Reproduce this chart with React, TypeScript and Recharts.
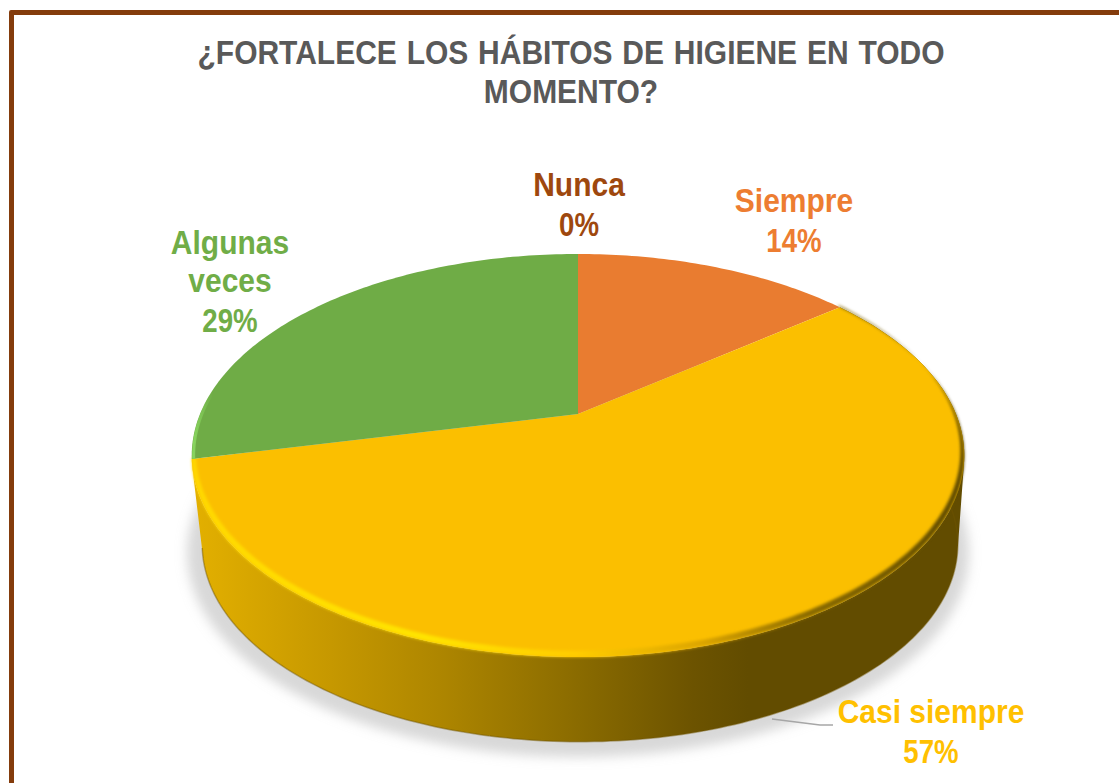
import React from 'react';
import { PieChart, Pie, Cell } from 'recharts';

const categories = ['Siempre', 'Casi siempre', 'Algunas veces', 'Nunca'];
const responses = [1, 4, 2, 0];
const colors = ['#e97c30', '#fbbf00', '#6fac46', '#9e480e'];
const labelColors = ['#ed7d31', '#ffc000', '#70ad47', '#9e480e'];
const titleLines = ['¿FORTALECE LOS HÁBITOS DE HIGIENE EN TODO', 'MOMENTO?'];

const pieData = categories.map((name, i) => ({ name, value: responses[i] }));
const shadowData = [{ name: 'sombra', value: 1 }];

// where the data labels sit: centre x and one baseline per line
const labelSpots: Record<string, { x: number; lines: string[]; y: number[] }> = {
  Siempre: { x: 794, lines: ['Siempre'], y: [212, 252] },
  'Casi siempre': { x: 931, lines: ['Casi siempre'], y: [723, 763] },
  'Algunas veces': { x: 230, lines: ['Algunas', 'veces'], y: [254, 292, 332] },
  Nunca: { x: 579, lines: ['Nunca'], y: [196, 236] },
};

// perspective of the tilted disc
const TILT = 0.5106;
const DEPTH = 0.206;
const WALL_DROP = 90;
const WALL_SHIFT = 2;
const WALL_SCALE = 0.978;

const RAD = Math.PI / 180;
const FONT = "'Liberation Sans', Arial, sans-serif";

const project = (cx: number, cy: number, r: number, deg: number) => {
  const u = Math.cos(deg * RAD);
  const v = Math.sin(deg * RAD);
  const d = 1 + DEPTH * v;
  return [cx + (r * u) / d, cy - (r * TILT * v) / d];
};

const arcPoints = (cx: number, cy: number, r: number, from: number, to: number) => {
  const steps = Math.max(2, Math.ceil(Math.abs(to - from)));
  const pts: number[][] = [];
  for (let i = 0; i <= steps; i++) {
    pts.push(project(cx, cy, r, from + ((to - from) * i) / steps));
  }
  return pts;
};

const toPath = (pts: number[][], close = true) =>
  pts.map((p, i) => `${i ? 'L' : 'M'}${p[0].toFixed(2)} ${p[1].toFixed(2)}`).join(' ') + (close ? ' Z' : '');

// same winding on every quad, so the union has no seams and keeps the tangent silhouette
const sweepPath = (top: number[][], bottom: number[][]) => {
  const parts: string[] = [];
  for (let i = 0; i < top.length - 1; i++) {
    const quad = [top[i], top[i + 1], bottom[i + 1], bottom[i]];
    let area = 0;
    quad.forEach((p, j) => {
      const q = quad[(j + 1) % 4];
      area += p[0] * q[1] - q[0] * p[1];
    });
    parts.push(toPath(area < 0 ? [...quad].reverse() : quad));
  }
  return parts.join(' ');
};

const FaceShape = (props: any) => {
  const { cx, cy, outerRadius, startAngle, endAngle, fill, name } = props;
  if (startAngle === endAngle) return null;
  const rim = arcPoints(cx, cy, outerRadius, startAngle, endAngle);
  const face = toPath([[cx, cy], ...rim]);
  const mid = (startAngle + endAngle) / 2;
  const inner = arcPoints(cx, cy - 4, outerRadius * 0.99, endAngle, startAngle);
  return (
    <g>
      <path d={face} fill={fill} />
      {Math.sin(mid * RAD) < 0 && (
        <path d={toPath([...rim, ...inner])} fill="url(#bevel)" filter="url(#soft)" />
      )}
      {name === 'Algunas veces' && (
        <path
          d={toPath(arcPoints(cx, cy, outerRadius * 0.995, startAngle, endAngle), false)}
          fill="none"
          stroke="url(#greenEdge)"
          strokeWidth={3}
        />
      )}
    </g>
  );
};

const WallShape = (props: any) => {
  const { cx, cy, outerRadius, startAngle, endAngle } = props;
  const mid = (startAngle + endAngle) / 2;
  if (startAngle === endAngle || Math.sin(mid * RAD) >= 0) return null;
  const rim = arcPoints(cx, cy, outerRadius, startAngle, endAngle);
  const base = arcPoints(cx + WALL_SHIFT, cy + WALL_DROP, outerRadius * WALL_SCALE, startAngle, endAngle);
  return (
    <g>
      <path d={sweepPath(rim, base)} fill="url(#wall)" />
      <path d={toPath(base, false)} fill="none" stroke="#6e5500" strokeOpacity={0.45} strokeWidth={1.5} />
    </g>
  );
};

const ShadowShape = (props: any) => {
  const { cx, cy, outerRadius, startAngle, endAngle } = props;
  const ring = arcPoints(cx, cy + WALL_DROP + 7, outerRadius * 1.012, startAngle, endAngle);
  return <path d={toPath(ring)} fill="#b4b4b4" fillOpacity={0.52} filter="url(#blur)" />;
};

// the text in the picture is a little condensed and tall
const Condensed = ({ x, y, fill, squeeze = 0.923, wordSpacing = 0, children }: any) => (
  <text
    transform={`translate(${x} ${y}) scale(${squeeze} 1)`}
    textAnchor="middle"
    fontFamily={FONT}
    fontWeight={700}
    fontSize={32.5}
    wordSpacing={wordSpacing}
    fill={fill}
  >
    {children}
  </text>
);

const DataLabel = (props: any) => {
  const { name, percent, index } = props;
  const spot = labelSpots[name];
  if (!spot) return null;
  const lines = [...spot.lines, `${Math.round(percent * 100)}%`];
  return (
    <g>
      {name === 'Casi siempre' && (
        <polyline points="772,719 820,725 833,725" fill="none" stroke="#a6a6a6" strokeWidth={1.5} />
      )}
      {lines.map((line, i) => (
        <Condensed
          key={line}
          x={spot.x}
          y={spot.y[i]}
          fill={labelColors[index]}
          squeeze={line.endsWith('%') ? 0.85 : 0.923}
        >
          {line}
        </Condensed>
      ))}
    </g>
  );
};

export default function App() {
  return (
    <div style={{ position: 'absolute', left: 0, top: 0, width: 1119, height: 783, overflow: 'hidden', background: '#fff' }}>
      <div
        style={{
          position: 'absolute',
          left: 9,
          top: 10,
          width: 1300,
          height: 1000,
          border: '5px solid #843c0c',
          borderRadius: 2,
        }}
      />
      <div style={{ position: 'absolute', left: 0, top: 0 }}>
        <PieChart width={1119} height={783} margin={{ top: 0, right: 0, bottom: 0, left: 0 }}>
          <defs>
            <linearGradient id="wall" x1="0" y1="0" x2="1" y2="0">
              <stop offset="0" stopColor="#e3b000" />
              <stop offset="0.18" stopColor="#c69800" />
              <stop offset="0.32" stopColor="#ae8600" />
              <stop offset="0.5" stopColor="#8a6b00" />
              <stop offset="0.65" stopColor="#6c5300" />
              <stop offset="0.72" stopColor="#624c00" />
              <stop offset="1" stopColor="#624c00" />
            </linearGradient>
            <linearGradient id="bevel" x1="0" y1="0" x2="1" y2="0">
              <stop offset="0" stopColor="#ffd800" />
              <stop offset="0.3" stopColor="#ffe400" />
              <stop offset="0.5" stopColor="#ffcc00" />
              <stop offset="0.66" stopColor="#dca500" />
              <stop offset="0.8" stopColor="#8a6b00" />
              <stop offset="1" stopColor="#5f4a00" />
            </linearGradient>
            <linearGradient id="greenEdge" x1="0" y1="0" x2="1" y2="0">
              <stop offset="0" stopColor="#88d45e" />
              <stop offset="0.05" stopColor="#88d45e" stopOpacity={0} />
            </linearGradient>
            <filter id="soft" x="-2%" y="-5%" width="104%" height="110%">
              <feGaussianBlur stdDeviation="1.6" />
            </filter>
            <filter id="blur" x="-5%" y="-5%" width="110%" height="110%">
              <feGaussianBlur stdDeviation="6" />
            </filter>
          </defs>
          {titleLines.map((line, i) => (
            <Condensed key={line} x={571} y={64 + i * 39} fill="#595959" wordSpacing={i === 0 ? 1.6 : 0}>
              {line}
            </Condensed>
          ))}
          <Pie
            data={shadowData}
            dataKey="value"
            cx={578}
            cy={414}
            outerRadius={378}
            startAngle={90}
            endAngle={-270}
            stroke="none"
            shape={ShadowShape}
            isAnimationActive={false}
          />
          <Pie
            data={pieData}
            dataKey="value"
            cx={578}
            cy={414}
            outerRadius={378}
            startAngle={90}
            endAngle={-270}
            stroke="none"
            shape={WallShape}
            isAnimationActive={false}
          />
          <Pie
            data={pieData}
            dataKey="value"
            nameKey="name"
            cx={578}
            cy={414}
            outerRadius={378}
            startAngle={90}
            endAngle={-270}
            stroke="none"
            shape={FaceShape}
            label={DataLabel}
            labelLine={false}
            isAnimationActive={false}
          >
            {categories.map((name, i) => (
              <Cell key={name} fill={colors[i]} />
            ))}
          </Pie>
        </PieChart>
      </div>
    </div>
  );
}
